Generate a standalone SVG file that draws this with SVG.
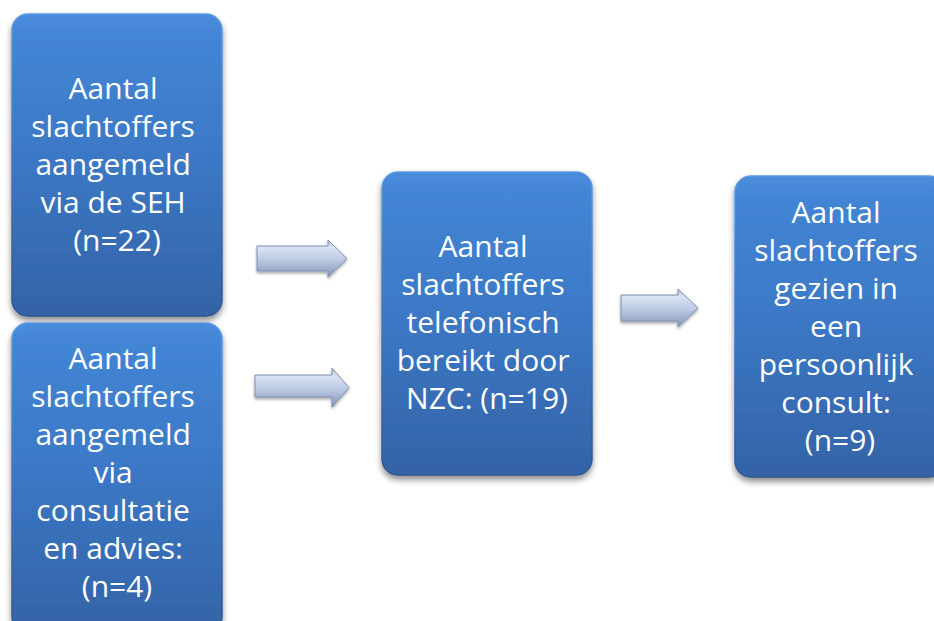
<svg xmlns="http://www.w3.org/2000/svg" width="934" height="621" viewBox="0 0 934 621">
  <defs>
    <linearGradient id="boxFill" x1="0" y1="0" x2="0" y2="1">
      <stop offset="0" stop-color="#4a8cdc"/>
      <stop offset="0.08" stop-color="#4285d4"/>
      <stop offset="0.5" stop-color="#3b77c4"/>
      <stop offset="1" stop-color="#3463a6"/>
    </linearGradient>
    <linearGradient id="boxEdge" x1="0" y1="0" x2="0" y2="1">
      <stop offset="0" stop-color="#5b9ae2"/>
      <stop offset="1" stop-color="#2c5590"/>
    </linearGradient>
    <linearGradient id="arrowFill" x1="0" y1="0" x2="0" y2="1">
      <stop offset="0" stop-color="#aebdda"/>
      <stop offset="0.2" stop-color="#dbe3f2"/>
      <stop offset="0.55" stop-color="#bac8e2"/>
      <stop offset="1" stop-color="#8396bb"/>
    </linearGradient>
    <filter id="shadow" x="-10%" y="-10%" width="120%" height="125%">
      <feGaussianBlur in="SourceAlpha" stdDeviation="3"/>
      <feOffset dx="0" dy="4" result="b"/>
      <feComponentTransfer><feFuncA type="linear" slope="0.45"/></feComponentTransfer>
      <feMerge><feMergeNode/><feMergeNode in="SourceGraphic"/></feMerge>
    </filter>
    <filter id="arrowShadow" x="-10%" y="-20%" width="120%" height="150%">
      <feGaussianBlur in="SourceAlpha" stdDeviation="1.5"/>
      <feOffset dx="0" dy="2"/>
      <feComponentTransfer><feFuncA type="linear" slope="0.35"/></feComponentTransfer>
      <feMerge><feMergeNode/><feMergeNode in="SourceGraphic"/></feMerge>
    </filter>
  </defs>
  <style>
    .box { fill: url(#boxFill); stroke: url(#boxEdge); stroke-width: 1.5; filter: url(#shadow); }
    .label { font-family: "Open Sans", "Liberation Sans", sans-serif; font-size: 30px; fill: #ffffff; text-anchor: middle; }
    .arrow { fill: url(#arrowFill); stroke: #7f90b2; stroke-width: 1; stroke-linejoin: miter; filter: url(#arrowShadow); }
  </style>

  <rect width="934" height="621" fill="#ffffff"/>

  <!-- flow arrows -->
  <g id="connectors">
    <path class="arrow" d="M257,246 H328 V240 L347,258.5 L328,277 V271 H257 Z"/>
    <path class="arrow" d="M255,375 H332 V368 L349,387.5 L332,407 V397 H255 Z"/>
    <path class="arrow" d="M621,295 H678 V289 L698,308 L678,327 V321 H621 Z"/>
  </g>

  <g id="node-seh">
    <rect class="box" x="12" y="14" width="210" height="302" rx="16"/>
    <text class="label">
      <tspan x="117" y="99">Aantal</tspan>
      <tspan x="117" y="137">slachtoffers</tspan>
      <tspan x="117" y="175">aangemeld</tspan>
      <tspan x="117" y="213">via de SEH</tspan>
      <tspan x="117" y="251">(n=22)</tspan>
    </text>
  </g>

  <g id="node-consultatie">
    <rect class="box" x="12" y="323" width="210" height="310" rx="16"/>
    <text class="label">
      <tspan x="117" y="369">Aantal</tspan>
      <tspan x="117" y="407">slachtoffers</tspan>
      <tspan x="117" y="445">aangemeld</tspan>
      <tspan x="117" y="483">via</tspan>
      <tspan x="117" y="521">consultatie</tspan>
      <tspan x="117" y="559">en advies:</tspan>
      <tspan x="117" y="597">(n=4)</tspan>
    </text>
  </g>

  <g id="node-telefonisch">
    <rect class="box" x="382" y="172" width="210" height="303" rx="16"/>
    <text class="label">
      <tspan x="487" y="257">Aantal</tspan>
      <tspan x="487" y="295">slachtoffers</tspan>
      <tspan x="487" y="333">telefonisch</tspan>
      <tspan x="487" y="371">bereikt door</tspan>
      <tspan x="487" y="409">NZC: (n=19)</tspan>
    </text>
  </g>

  <g id="node-consult">
    <rect class="box" x="735" y="176" width="210" height="301" rx="16"/>
    <text class="label">
      <tspan x="840" y="223">Aantal</tspan>
      <tspan x="840" y="261">slachtoffers</tspan>
      <tspan x="840" y="299">gezien in</tspan>
      <tspan x="840" y="337">een</tspan>
      <tspan x="840" y="375">persoonlijk</tspan>
      <tspan x="840" y="413">consult:</tspan>
      <tspan x="840" y="451">(n=9)</tspan>
    </text>
  </g>
</svg>
